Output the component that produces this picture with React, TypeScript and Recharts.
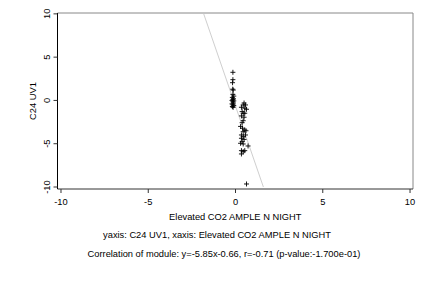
import React from "react";
import {
  ScatterChart,
  Scatter,
  XAxis,
  YAxis,
  ReferenceLine,
  Label
} from "recharts";

// module values
const xValues = [
  -0.15, -0.15, -0.17, -0.16, -0.13, -0.15, -0.1, -0.18, -0.12, -0.15, -0.2, -0.1, -0.15, -0.12, -0.2,
  -0.15, -0.1, -0.18, -0.14,
  0.49, 0.44, 0.57, 0.34, 0.53, 0.63, 0.38, 0.44, 0.53, 0.34, 0.49, 0.44, 0.38, 0.29, 0.4, 0.53, 0.44,
  0.6, 0.34, 0.44, 0.57, 0.34, 0.49, 0.38, 0.29, 0.44, 0.72, 0.34, 0.44, 0.34, 0.53, 0.63
];
const yValues = [
  3.25, 2.4, 2.05, 1.3, 1.2, 0.7, 0.5, 0.35, 0.2, 0.1, 0.0, -0.05, -0.15, -0.3, -0.4,
  -0.5, -0.6, -0.7, -0.8,
  -0.3, -0.52, -0.52, -0.79, -0.9, -1.02, -1.29, -1.48, -1.48, -1.79, -1.94, -2.34, -2.57, -3.0, -3.21,
  -3.41, -3.61, -3.5, -3.99, -4.18, -3.99, -4.37, -4.5, -4.76, -4.95, -5.03, -5.26, -5.8, -5.92, -6.18,
  -5.8, -9.65
];

const xTicks = [-10, -5, 0, 5, 10];
const yTicks = [-10, -5, 0, 5, 10];

const slope = -5.85;
const intercept = -0.66;
const yLimit = 10;

const xTitle = "Elevated CO2 AMPLE N NIGHT";
const yTitle = "C24 UV1";
const subtitle = "yaxis: C24 UV1, xaxis: Elevated CO2 AMPLE N NIGHT";
const caption = "Correlation of module: y=-5.85x-0.66, r=-0.71 (p-value:-1.700e-01)";

const points = xValues.map((x, i) => ({ x, y: yValues[i] }));

const FONT = "'Liberation Sans', Arial, sans-serif";
const FS = 9.3;

const Cross = (props: { cx?: number; cy?: number }) => {
  const { cx = 0, cy = 0 } = props;
  const r = 2.5;
  return (
    <path
      d={`M${cx - r},${cy}H${cx + r}M${cx},${cy - r}V${cy + r}`}
      stroke="#000"
      strokeWidth={0.9}
      fill="none"
    />
  );
};

const YTick = (props: { x?: number; y?: number; payload?: { value: number } }) => {
  const { x = 0, y = 0, payload } = props;
  return (
    <text
      x={x}
      y={y}
      transform={`rotate(-90 ${x} ${y})`}
      textAnchor="middle"
      fontSize={FS}
      fontFamily={FONT}
      fill="#000"
    >
      {payload?.value}
    </text>
  );
};

export default function App() {
  const xTop = (yLimit - intercept) / slope;
  const xBottom = (-yLimit - intercept) / slope;

  return (
    <div style={{ position: "absolute", left: 0, top: 0, width: 432, height: 288, background: "#fff" }}>
      <ScatterChart width={432} height={288} margin={{ top: 13, right: 19, bottom: 69, left: 0 }}>
        <XAxis
          type="number"
          dataKey="x"
          domain={[-10.2, 10.17]}
          ticks={xTicks}
          allowDataOverflow
          tickSize={4}
          tickMargin={5}
          height={30}
          axisLine={{ stroke: "#333" }}
          tickLine={{ stroke: "#333" }}
          tick={{ fontSize: FS, fill: "#000", fontFamily: FONT }}
        >
          <Label value={xTitle} position="insideBottom" offset={-1} fontSize={FS} fill="#000" fontFamily={FONT} />
        </XAxis>
        <YAxis
          type="number"
          dataKey="y"
          domain={[-10.23, 10.1]}
          ticks={yTicks}
          allowDataOverflow
          width={57.5}
          tickSize={4}
          tickMargin={3}
          axisLine={{ stroke: "#000" }}
          tickLine={{ stroke: "#333" }}
          tick={<YTick />}
        >
          <Label
            value={yTitle}
            angle={-90}
            position="insideLeft"
            offset={33}
            fontSize={FS}
            fill="#000"
            fontFamily={FONT}
            style={{ textAnchor: "middle" }}
          />
        </YAxis>
        <ReferenceLine y={10.1} stroke="#888" ifOverflow="visible" />
        <ReferenceLine x={10.17} stroke="#888" ifOverflow="visible" />
        <ReferenceLine
          segment={[
            { x: xTop, y: yLimit },
            { x: xBottom, y: -yLimit }
          ]}
          stroke="#cfcfcf"
          strokeWidth={1}
          ifOverflow="visible"
        />
        <Scatter data={points} shape={<Cross />} isAnimationActive={false} />
      </ScatterChart>
      <div
        style={{
          position: "absolute",
          top: 230,
          left: 0,
          width: 434,
          textAlign: "center",
          fontSize: FS,
          fontFamily: FONT,
          color: "#000"
        }}
      >
        {subtitle}
      </div>
      <div
        style={{
          position: "absolute",
          top: 249,
          left: 0,
          width: 448,
          textAlign: "center",
          fontSize: FS,
          fontFamily: FONT,
          color: "#000"
        }}
      >
        {caption}
      </div>
    </div>
  );
}
